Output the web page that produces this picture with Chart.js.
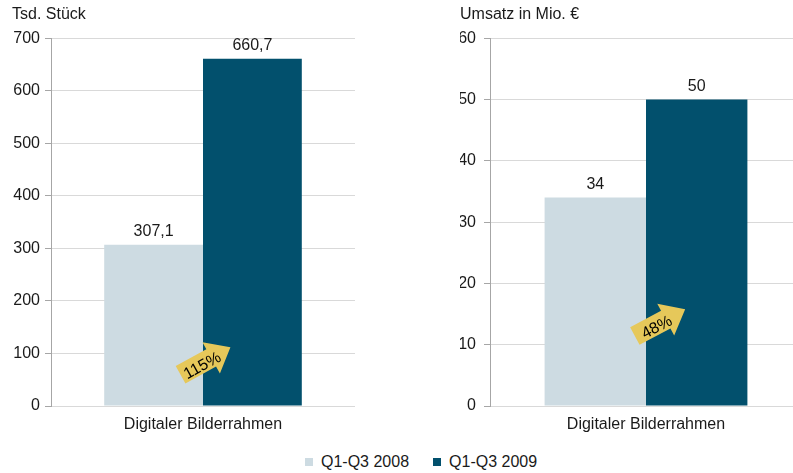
<!DOCTYPE html>
<html>
<head>
<meta charset="utf-8">
<script src="https://cdn.jsdelivr.net/npm/chart.js@4.4.0/dist/chart.umd.min.js"></script>
<style>
  body { margin: 0; width: 793px; height: 473px; overflow: hidden; background: #fff; position: relative;
         font-family: "Liberation Sans", Arial, sans-serif; color: #1a1a1a; }
  #box1 { position: absolute; left: 0; top: 0; width: 355px; height: 440px; }
  #box2 { position: absolute; left: 440px; top: 0; width: 362px; height: 440px; }
  #legend { position: absolute; left: 305px; top: 453px; display: flex; font-size: 16px; line-height: 18px; }
  #legend span.item { display: flex; align-items: center; margin-right: 24px; }
  #legend span.sw { display: inline-block; width: 8px; height: 8px; margin-right: 8px; }
</style>
</head>
<body>
<div id="box1"><canvas id="myChart"></canvas></div>
<div id="box2"><canvas id="myChart2"></canvas></div>
<div id="legend"></div>
<script>
// data
var categories = ['Digitaler Bilderrahmen'];
var seriesNames = ['Q1-Q3 2008', 'Q1-Q3 2009'];
var seriesColors = ['#cddbe2', '#02506d'];
var stueck2008 = [307.1];
var stueck2009 = [660.7];
var umsatz2008 = [34];
var umsatz2009 = [50];
var stueckTicks = [0, 700, 100];   // min, max, step
var umsatzTicks = [0, 60, 10];
var growthLabels = ['115%', '48%'];

var FONT = '"Liberation Sans", Arial, sans-serif';
var TXT = '#1a1a1a';

// value labels over bars + yellow growth arrow
var barLabels = {
    id: 'barLabels',
    afterDatasetsDraw: function (chart, args, opts) {
        var ctx = chart.ctx;
        ctx.save();
        ctx.font = '16px ' + FONT;
        ctx.fillStyle = TXT;
        ctx.textAlign = 'center';
        ctx.textBaseline = 'middle';
        chart.data.datasets.forEach(function (ds, i) {
            chart.getDatasetMeta(i).data.forEach(function (bar, j) {
                ctx.fillText(String(ds.data[j]).replace('.', ','), bar.x, bar.y - 13);
            });
        });

        var b0 = chart.getDatasetMeta(0).data[0];
        var b1 = chart.getDatasetMeta(1).data[0];
        var cx = (b0.x + b0.width / 2 + b1.x - b1.width / 2) / 2 + opts.dx;
        var cy = chart.scales.y.getPixelForValue(opts.value);
        ctx.translate(cx, cy);
        ctx.rotate(opts.angle * Math.PI / 180);
        var L = 57, H = 22, bw = 10, hw = 18;
        ctx.beginPath();
        ctx.moveTo(-L / 2, -bw);
        ctx.lineTo(L / 2 - H, -bw);
        ctx.lineTo(L / 2 - H, -hw);
        ctx.lineTo(L / 2, 0);
        ctx.lineTo(L / 2 - H, hw);
        ctx.lineTo(L / 2 - H, bw);
        ctx.lineTo(-L / 2, bw);
        ctx.closePath();
        ctx.fillStyle = '#e6c85a';
        ctx.fill();
        ctx.fillStyle = '#000';
        ctx.fillText(opts.text, -5, 3);
        ctx.restore();
    }
};

function makeChart(id, title, d1, d2, ticks, padLeft, axisWidth, tickPad, arrow) {
    return new Chart(document.getElementById(id).getContext('2d'), {
        type: 'bar',
        data: {
            labels: categories,
            datasets: [
                { label: seriesNames[0], data: d1, backgroundColor: seriesColors[0] },
                { label: seriesNames[1], data: d2, backgroundColor: seriesColors[1] }
            ]
        },
        options: {
            responsive: true,
            maintainAspectRatio: false,
            animation: false,
            devicePixelRatio: 1,
            layout: { padding: { left: padLeft, top: 0, right: 0, bottom: 0 } },
            categoryPercentage: 0.65,
            barPercentage: 1.0,
            plugins: {
                legend: { display: false },
                tooltip: { enabled: false },
                title: {
                    display: true, text: title, align: 'start', color: TXT,
                    font: { family: FONT, size: 16, weight: 'normal', lineHeight: 1.2 },
                    padding: { top: 5, bottom: 14 }
                },
                barLabels: arrow
            },
            scales: {
                x: {
                    grid: { display: false, drawTicks: false },
                    border: { display: false },
                    ticks: { color: TXT, font: { family: FONT, size: 16 }, padding: 9 },
                    afterFit: function (s) { s.height = 34; }
                },
                y: {
                    min: ticks[0], max: ticks[1],
                    grid: { color: '#d9d9d9', tickColor: '#a6a6a6', tickLength: 6 },
                    border: { color: '#a6a6a6' },
                    ticks: { stepSize: ticks[2], color: TXT, font: { family: FONT, size: 16 }, padding: tickPad },
                    afterFit: function (s) { s.width = axisWidth; }
                }
            }
        },
        plugins: [barLabels]
    });
}

var chart = makeChart('myChart', 'Tsd. Stück', stueck2008, stueck2009, stueckTicks, 12, 39, 5,
    { value: 85.6, dx: 2.5, angle: -29, text: growthLabels[0] });
var chart2 = makeChart('myChart2', 'Umsatz in Mio. €', umsatz2008, umsatz2009, umsatzTicks, 20, 30, 8,
    { value: 13.6, dx: 14, angle: -28, text: growthLabels[1] });

// legend
var lg = document.getElementById('legend');
seriesNames.forEach(function (n, i) {
    lg.innerHTML += '<span class="item"><span class="sw" style="background:' + seriesColors[i] + '"></span>' + n + '</span>';
});
</script>
</body>
</html>
